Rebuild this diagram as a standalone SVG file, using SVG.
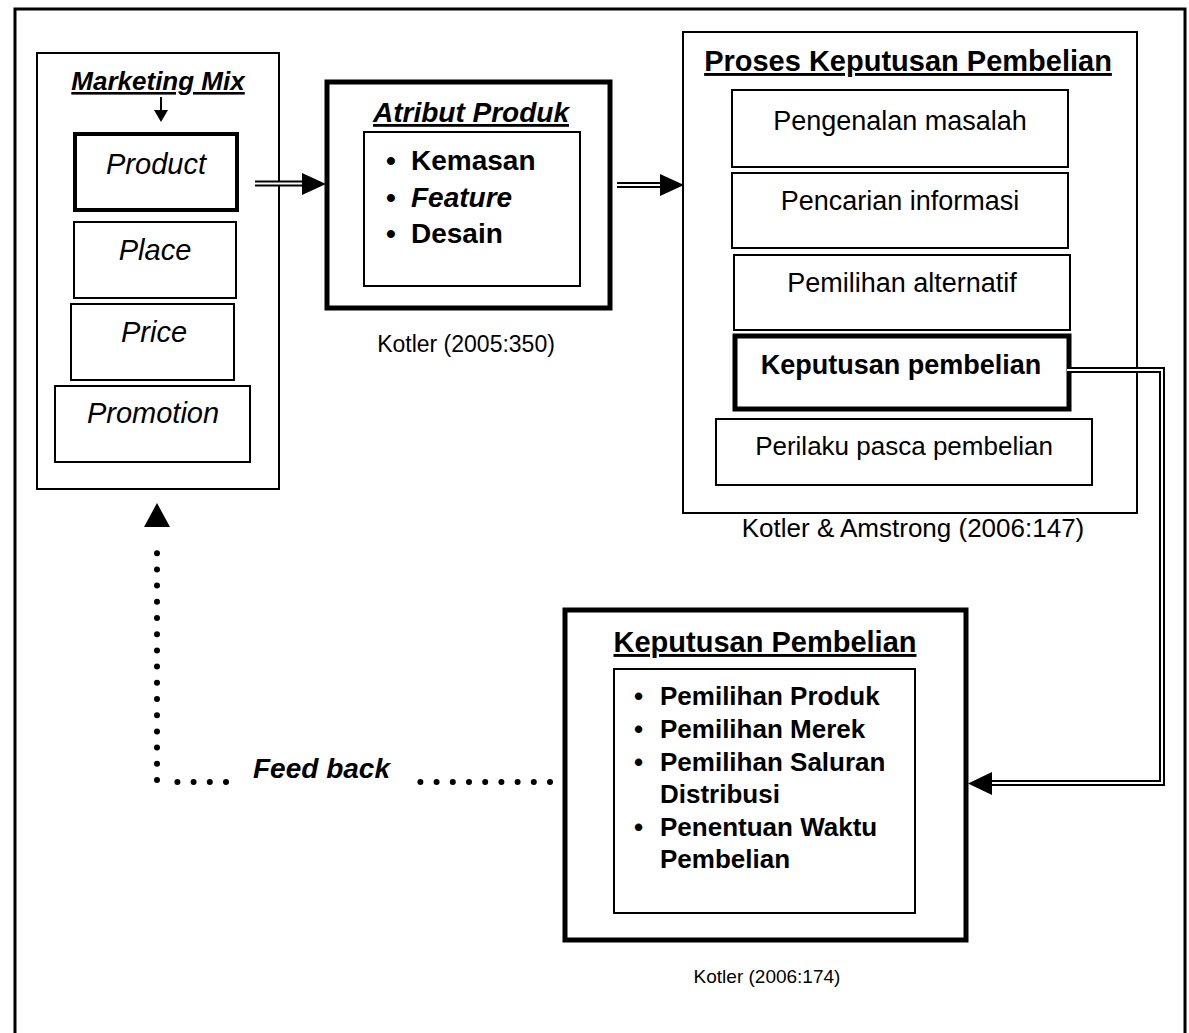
<svg xmlns="http://www.w3.org/2000/svg" width="1189" height="1033" viewBox="0 0 1189 1033">
<defs>
<style>
text{font-family:"Liberation Sans",Arial,Helvetica,sans-serif;fill:#000}
.box{fill:#fff;stroke:#000;stroke-width:2}
.thick{fill:#fff;stroke:#000;stroke-width:5}
.frame{fill:none;stroke:#000;stroke-width:3}
.c{text-anchor:middle}
.b{font-weight:bold}
.i{font-style:italic}
.u{text-decoration:underline}
.dbl-o{fill:none;stroke:#000;stroke-width:6;stroke-linejoin:miter}
.dbl-i{fill:none;stroke:#fff;stroke-width:2;stroke-linejoin:miter}
.dots{fill:none;stroke:#000;stroke-width:6;stroke-linecap:round;stroke-dasharray:0 16.2}
</style>
</defs>
<rect width="1189" height="1033" fill="#fff"/>
<g id="frame">
<path class="frame" d="M15,1033 V9 H1185 V1033"/>
</g>

<g id="marketing-mix">
<rect class="box" x="37" y="53" width="242" height="436"/>
<text class="c b i u" x="158" y="90" font-size="26">Marketing Mix</text>
</g>
<g id="product">
<rect class="thick" x="75" y="134" width="162" height="76" style="stroke-width:4"/>
<text class="c i" x="156" y="174" font-size="29">Product</text>
</g>
<g id="place">
<rect class="box" x="74" y="222" width="162" height="76"/>
<text class="c i" x="155" y="260" font-size="29">Place</text>
</g>
<g id="price">
<rect class="box" x="71" y="304" width="163" height="76"/>
<text class="c i" x="154" y="342" font-size="29">Price</text>
</g>
<g id="promotion">
<rect class="box" x="55" y="386" width="195" height="76"/>
<text class="c i" x="153" y="423" font-size="29">Promotion</text>
</g>

<g id="atribut-produk">
<rect class="thick" x="327" y="82" width="283" height="226"/>
<text class="c b i u" x="471" y="122" font-size="28">Atribut Produk</text>
<rect class="box" x="364" y="132" width="216" height="154"/>
<text class="b" x="386" y="170" font-size="28">•<tspan x="411">Kemasan</tspan></text>
<text class="b" x="386" y="207" font-size="28">•<tspan x="411" font-style="italic">Feature</tspan></text>
<text class="b" x="386" y="243" font-size="28">•<tspan x="411">Desain</tspan></text>
<text class="c" x="466" y="352" font-size="23">Kotler (2005:350)</text>
</g>

<g id="proses-keputusan">
<rect class="box" x="683" y="32" width="454" height="481"/>
<text class="c b u" x="908" y="71" font-size="29">Proses Keputusan Pembelian</text>
</g>
<g id="pengenalan">
<rect class="box" x="732" y="90" width="336" height="77"/>
<text class="c" x="900" y="130" font-size="27">Pengenalan masalah</text>
</g>
<g id="pencarian">
<rect class="box" x="732" y="173" width="336" height="75"/>
<text class="c" x="900" y="210" font-size="27">Pencarian informasi</text>
</g>
<g id="pemilihan">
<rect class="box" x="734" y="255" width="336" height="75"/>
<text class="c" x="902" y="292" font-size="27">Pemilihan alternatif</text>
</g>
<g id="keputusan-step">
<rect class="thick" x="735" y="336" width="334" height="73"/>
<text class="c b" x="901" y="374" font-size="27">Keputusan pembelian</text>
</g>
<g id="perilaku">
<rect class="box" x="716" y="419" width="376" height="66"/>
<text class="c" x="904" y="455" font-size="26">Perilaku pasca pembelian</text>
</g>
<g id="kotler-amstrong">
<text class="c" x="913" y="537" font-size="26">Kotler &amp; Amstrong (2006:147)</text>
</g>

<g id="keputusan-pembelian">
<rect class="thick" x="565" y="610" width="401" height="330"/>
<text class="c b u" x="765" y="652" font-size="29">Keputusan Pembelian</text>
<rect class="box" x="614" y="669" width="301" height="244"/>
<text class="b" x="634" y="705" font-size="26">•<tspan x="660">Pemilihan Produk</tspan></text>
<text class="b" x="634" y="738" font-size="26">•<tspan x="660">Pemilihan Merek</tspan></text>
<text class="b" x="634" y="771" font-size="26">•<tspan x="660">Pemilihan Saluran</tspan></text>
<text class="b" x="660" y="803" font-size="26">Distribusi</text>
<text class="b" x="634" y="836" font-size="26">•<tspan x="660">Penentuan Waktu</tspan></text>
<text class="b" x="660" y="868" font-size="26">Pembelian</text>
<text class="c" x="767" y="983" font-size="19">Kotler (2006:174)</text>
</g>

<g id="connectors">
<line x1="161" y1="97" x2="161" y2="112" stroke="#000" stroke-width="2"/>
<polygon points="154,110 168,110 161,122" fill="#000"/>

<path class="dbl-o" d="M255,183.5 H306"/>
<path class="dbl-i" d="M255,183.5 H306"/>
<polygon points="302,173 302,195 326,184" fill="#000"/>

<path class="dbl-o" d="M617,185 H663"/>
<path class="dbl-i" d="M617,185 H663"/>
<polygon points="660,174 660,196 684,185" fill="#000"/>

<path class="dbl-o" d="M1067,370 H1162 V783 H988"/>
<path class="dbl-i" d="M1067,370 H1162 V783 H988"/>
<polygon points="992,772 992,795 968,783.5" fill="#000"/>

<path class="dots" d="M157,780 V537"/>
<path class="dots" d="M226,782 H162"/>
<path class="dots" d="M550,782 H420"/>
<polygon points="157,503 144,527 170,527" fill="#000"/>
<text class="b i" x="253" y="778" font-size="28">Feed back</text>
</g>
</svg>
